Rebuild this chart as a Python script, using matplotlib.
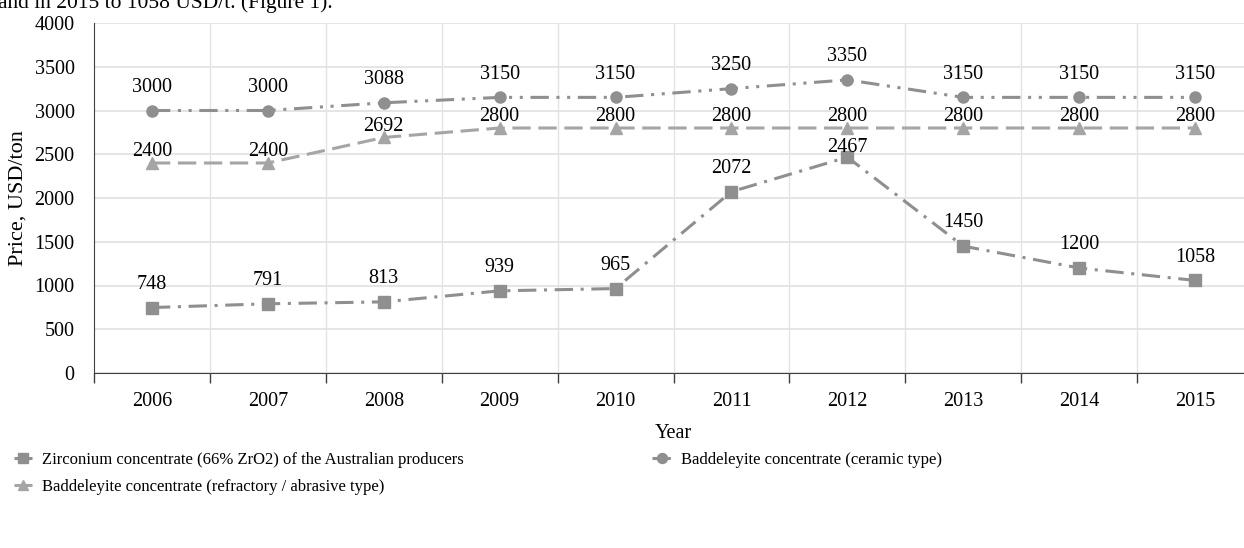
import matplotlib
matplotlib.use("Agg")
import matplotlib.pyplot as plt

years = ["2006", "2007", "2008", "2009", "2010", "2011", "2012", "2013", "2014", "2015"]
zircon = [748, 791, 813, 939, 965, 2072, 2467, 1450, 1200, 1058]
ceramic = [3000, 3000, 3088, 3150, 3150, 3250, 3350, 3150, 3150, 3150]
refractory = [2400, 2400, 2692, 2800, 2800, 2800, 2800, 2800, 2800, 2800]
y_ticks = [0, 500, 1000, 1500, 2000, 2500, 3000, 3500, 4000]

names = ["Zirconium concentrate (66% ZrO2) of the Australian producers",
         "Baddeleyite concentrate (ceramic type)",
         "Baddeleyite concentrate (refractory / abrasive type)"]

plt.rcParams['font.family'] = ['Liberation Serif', 'DejaVu Serif']

W, H = 1244, 548
fig = plt.figure(figsize=(W / 100, H / 100), dpi=100)
left, right, top, bottom = 94, 1253, 23, 373
ax = fig.add_axes([left / W, 1 - bottom / H, (right - left) / W, (bottom - top) / H])

x = list(range(len(years)))
c_dark = '#8f8f8f'
c_light = '#a5a5a5'
lw = 2.2

l1, = ax.plot(x, zircon, color=c_dark, lw=lw, marker='s', markersize=8,
              dashes=[6, 2.5, 1, 2.5], zorder=3)
l2, = ax.plot(x, ceramic, color=c_dark, lw=lw, marker='o', markersize=8,
              dashes=[6, 2.5, 1, 2.5, 1, 2.5], zorder=3)
l3, = ax.plot(x, refractory, color=c_light, lw=lw, marker='^', markersize=8,
              dashes=[6, 2.5], zorder=3)

fs = 14.5
for i, v in enumerate(zircon):
    off = 4 if years[i] == "2012" else 13.5
    ax.annotate(str(v), (i, v), xytext=(0, off), textcoords='offset points',
                ha='center', va='baseline', fontsize=fs, zorder=4)
for i, v in enumerate(ceramic):
    ax.annotate(str(v), (i, v), xytext=(0, 13.5), textcoords='offset points',
                ha='center', va='baseline', fontsize=fs, zorder=4)
for i, v in enumerate(refractory):
    ax.annotate(str(v), (i, v), xytext=(0, 5.0), textcoords='offset points',
                ha='center', va='baseline', fontsize=fs, zorder=4)

ax.set_xlim(-0.5, len(years) - 0.5)
ax.set_ylim(0, 4000)
ax.set_yticks(y_ticks)
ax.set_yticklabels([str(t) for t in y_ticks], fontsize=fs)
ax.set_xticks(x)
ax.set_xticklabels(years, fontsize=fs)
ax.tick_params(axis='x', length=0, pad=14)
ax.tick_params(axis='y', length=0, pad=14)
bounds = [i - 0.5 for i in range(len(years) + 1)]
ax.set_xticks(bounds, minor=True)
ax.tick_params(axis='x', which='minor', length=7, width=1, color='#404040', direction='out')
ax.grid(axis='y', color='#e3e3e3', lw=1.3, zorder=0)
for b in bounds[1:]:
    ax.axvline(b, color='#e3e3e3', lw=1, zorder=0)

for s in ['top', 'right']:
    ax.spines[s].set_visible(False)
ax.spines['left'].set_color('#404040')
ax.spines['bottom'].set_color('#404040')

ax.set_xlabel("Year", fontsize=fs, labelpad=9)
ax.set_ylabel("Price, USD/ton", fontsize=16)
ax.yaxis.set_label_coords((28 - left) / (right - left), 0.5)

handles = [l1, l3, l2]
labels = [names[0], names[2], names[1]]
fig.legend(handles, labels, loc='upper left', bbox_to_anchor=(14 / W, 1 - 452 / H),
           ncol=2, frameon=False, fontsize=12, handlelength=1.1, handletextpad=0.6,
           columnspacing=11.3, borderpad=0, borderaxespad=0, labelspacing=0.65,
           numpoints=1, markerscale=0.9)

fig.text(-0.002, 1 - 8 / H, "and in 2015 to 1058 USD/t. (Figure 1).", fontsize=15.5,
         ha='left', va='baseline')

fig.savefig("out.png", dpi=100)
